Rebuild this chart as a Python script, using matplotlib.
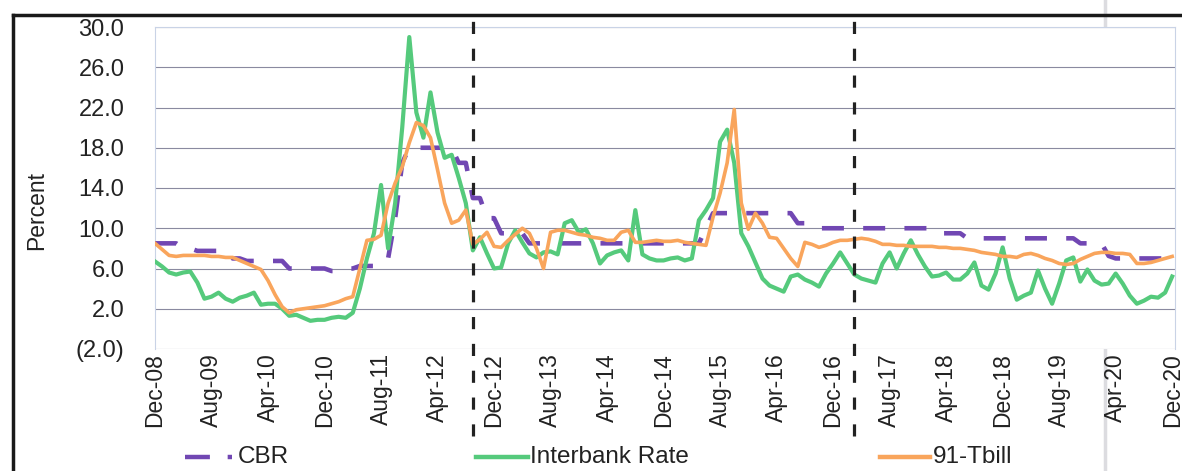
import numpy as np
import matplotlib
matplotlib.use("Agg")
import matplotlib.pyplot as plt
from matplotlib.lines import Line2D
from matplotlib.ticker import FuncFormatter, FixedLocator

plt.rcParams['font.family'] = ['Liberation Sans', 'DejaVu Sans']

# monthly, Dec-08 .. Dec-20 (145 months)
cbr = [8.5, 8.5, 8.5, 8.5, 8.0, 8.0, 7.75, 7.75, 7.75, 7.75, 7.75, 7.0, 7.0, 6.75, 6.75, 6.75, 6.75, 6.75, 6.75, 6.0,
       6.0, 6.0, 6.0, 6.0, 6.0, 5.75, 5.75, 6.0, 6.0, 6.25, 6.25, 6.25, 6.25, 7.0, 11.0, 16.5, 18.0, 18.0, 18.0, 18.0,
       18.0, 18.0, 18.0, 16.5, 16.5, 13.0, 13.0, 11.0, 11.0, 9.5, 9.5, 9.5, 9.5, 8.5, 8.5, 8.5, 8.5, 8.5, 8.5, 8.5,
       8.5, 8.5, 8.5, 8.5, 8.5, 8.5, 8.5, 8.5, 8.5, 8.5, 8.5, 8.5, 8.5, 8.5, 8.5, 8.5, 8.5, 8.5, 10.0, 11.5,
       11.5, 11.5, 11.5, 11.5, 11.5, 11.5, 11.5, 11.5, 11.5, 11.5, 11.5, 10.5, 10.5, 10.0, 10.0, 10.0, 10.0, 10.0, 10.0, 10.0,
       10.0, 10.0, 10.0, 10.0, 10.0, 10.0, 10.0, 10.0, 10.0, 10.0, 10.0, 9.5, 9.5, 9.5, 9.5, 9.0, 9.0, 9.0, 9.0, 9.0,
       9.0, 9.0, 9.0, 9.0, 9.0, 9.0, 9.0, 9.0, 9.0, 9.0, 9.0, 8.5, 8.5, 8.5, 8.5, 7.25, 7.0, 7.0, 7.0, 7.0,
       7.0, 7.0, 7.0, 7.0, 7.0]

interbank = [6.7, 6.2, 5.6, 5.4, 5.6, 5.7, 4.6, 3.0, 3.2, 3.6, 3.0, 2.7, 3.1, 3.3, 3.6, 2.4, 2.5, 2.5, 2.0, 1.3,
             1.4, 1.1, 0.8, 0.9, 0.9, 1.1, 1.2, 1.1, 1.6, 4.0, 7.0, 9.5, 14.3, 8.0, 12.5, 20.0, 29.0, 21.5, 19.0, 23.5,
             19.5, 17.0, 17.3, 15.0, 12.5, 7.8, 9.1, 7.5, 6.0, 6.1, 8.5, 9.8, 8.6, 7.5, 7.1, 7.6, 7.7, 7.4, 10.5, 10.8,
             9.6, 9.9, 8.5, 6.5, 7.3, 7.6, 7.8, 6.8, 11.8, 7.4, 7.0, 6.8, 6.8, 7.0, 7.1, 6.8, 7.0, 10.8, 11.8, 13.0,
             18.6, 19.8, 16.5, 9.5, 8.2, 6.6, 5.0, 4.3, 4.0, 3.7, 5.2, 5.4, 4.9, 4.6, 4.2, 5.5, 6.5, 7.6, 6.5, 5.4,
             5.0, 4.8, 4.6, 6.5, 7.6, 6.0, 7.5, 8.8, 7.4, 6.2, 5.2, 5.3, 5.6, 4.9, 4.9, 5.5, 6.6, 4.3, 3.9, 5.5,
             8.1, 5.0, 2.9, 3.3, 3.6, 5.8, 4.0, 2.5, 4.5, 6.8, 7.1, 4.7, 5.9, 4.8, 4.4, 4.5, 5.5, 4.5, 3.3, 2.5,
             2.8, 3.2, 3.1, 3.6, 5.2]

tbill = [8.5, 7.9, 7.3, 7.2, 7.3, 7.3, 7.3, 7.3, 7.2, 7.2, 7.1, 7.1, 6.8, 6.5, 6.2, 5.9, 4.8, 3.4, 2.2, 1.6,
         1.9, 2.0, 2.1, 2.2, 2.3, 2.5, 2.7, 3.0, 3.2, 6.0, 8.8, 8.9, 9.3, 12.5, 14.5, 16.1, 18.5, 20.5, 20.2, 19.0,
         15.8, 12.5, 10.5, 10.8, 11.8, 8.4, 8.9, 9.6, 8.2, 8.1, 8.8, 9.4, 10.0, 9.5, 8.0, 6.0, 9.6, 9.8, 9.8, 9.6,
         9.4, 9.3, 9.1, 9.0, 8.8, 8.8, 9.6, 9.8, 8.6, 8.6, 8.7, 8.8, 8.7, 8.7, 8.8, 8.6, 8.5, 8.4, 8.3, 11.1,
         13.5, 16.5, 21.8, 12.5, 9.9, 11.5, 10.5, 9.1, 9.0, 8.0, 7.0, 6.2, 8.6, 8.4, 8.1, 8.3, 8.6, 8.8, 8.8, 8.9,
         9.0, 8.9, 8.7, 8.4, 8.4, 8.3, 8.3, 8.2, 8.2, 8.2, 8.2, 8.1, 8.1, 8.0, 8.0, 7.9, 7.8, 7.6, 7.5, 7.4,
         7.2, 7.2, 7.1, 7.4, 7.5, 7.3, 7.0, 6.8, 6.5, 6.4, 6.5, 6.9, 7.2, 7.5, 7.6, 7.6, 7.5, 7.5, 7.4, 6.5,
         6.5, 6.6, 6.8, 7.0, 7.2]

tick_labels = ['Dec-08', 'Aug-09', 'Apr-10', 'Dec-10', 'Aug-11', 'Apr-12', 'Dec-12', 'Aug-13', 'Apr-14',
               'Dec-14', 'Aug-15', 'Apr-16', 'Dec-16', 'Aug-17', 'Apr-18', 'Dec-18', 'Aug-19', 'Apr-20', 'Dec-20']
break_months = [45, 99]   # dashed vertical markers

purple = '#7147b3'
green = '#55ca7c'
orange = '#f9a55c'

W, H = 1182, 471
fig = plt.figure(figsize=(W / 100, H / 100), dpi=100)
ax = fig.add_axes([155 / W, (H - 349) / H, (1175 - 155) / W, (349 - 27) / H])

x = np.arange(len(cbr))
ax.plot(x, cbr, color=purple, lw=3.3, dashes=(4.8, 4.2), zorder=3)
ax.plot(x, interbank, color=green, lw=3.0, zorder=4)
ax.plot(x, tbill, color=orange, lw=2.6, zorder=5)

ax.set_xlim(0, 144.4)
ax.set_ylim(-2, 30)
ax.yaxis.set_major_locator(FixedLocator(np.arange(-2, 31, 4)))
ax.yaxis.set_major_formatter(FuncFormatter(lambda v, p: f'({abs(v):.1f})' if v < 0 else f'{v:.1f}'))
ax.set_xticks(np.arange(0, 145, 8))
ax.set_xticklabels(tick_labels, rotation=90)
ax.tick_params(axis='y', length=0, pad=22, labelsize=17, colors='#222222')
ax.tick_params(axis='x', length=0, pad=3, labelsize=16.5, colors='#222222')
ax.grid(axis='y', color='#8a8aa0', lw=0.8)
for s in ax.spines.values():
    s.set_color('#c9d3e6')
    s.set_linewidth(0.8)
ax.spines['bottom'].set_visible(False)
ax.set_ylabel('Percent', fontsize=16.5, color='#222222')
ax.yaxis.set_label_coords(-0.105, 0.43)

for m in break_months:
    ax.plot([m, m], [-0.27, 1.022], transform=ax.get_xaxis_transform(), color='#222222',
            lw=2.3, dashes=(3.8, 4.6), clip_on=False, zorder=6)

# legend drawn by hand along the bottom
ly = (H - 457) / H
items = [(185, 232, purple, (5.6, 4.0), 'CBR', 238),
         (476, 528, green, None, 'Interbank Rate', 530),
         (880, 930, orange, None, '91-Tbill', 933)]
for x0, x1, col, dsh, lab, tx in items:
    ln = Line2D([x0 / W, x1 / W], [ly, ly], transform=fig.transFigure, color=col, lw=3.2)
    if dsh:
        ln.set_dashes(dsh)
    fig.add_artist(ln)
    fig.text(tx / W, ly, lab, fontsize=17.5, va='center', ha='left', color='#222222')

# outer frame (left and top)
fig.add_artist(Line2D([13 / W, 13 / W], [0, (H - 15) / H], transform=fig.transFigure, color='#1a1a1a', lw=2.5))
fig.add_artist(Line2D([13 / W, 1], [(H - 15) / H, (H - 15) / H], transform=fig.transFigure, color='#1a1a1a', lw=2.5))
fig.add_artist(Line2D([1105 / W, 1105 / W], [0, 1], transform=fig.transFigure, color='#dcdce0', lw=2.5, zorder=0))

fig.savefig('out.png', dpi=100)
